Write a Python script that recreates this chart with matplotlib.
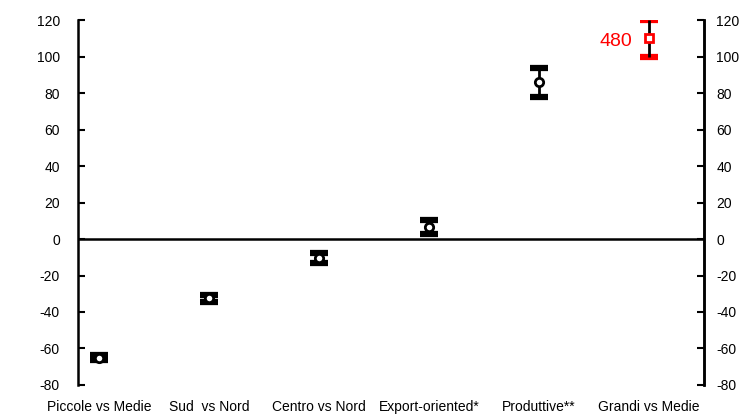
import numpy as np
import matplotlib.pyplot as plt

plt.rcParams['font.family'] = ['Liberation Sans', 'DejaVu Sans']
plt.rcParams['axes.unicode_minus'] = False

categorie = ["Piccole vs Medie", "Sud  vs Nord", "Centro vs Nord",
             "Export-oriented*", "Produttive**", "Grandi vs Medie"]
valori = [-65, -32.5, -10.5, 6.5, 86, 110]
errori = [1.5, 1.8, 2.8, 3.8, 8, 10]
colori = ["black", "black", "black", "black", "black", "red"]
marker = ["o", "o", "o", "o", "o", "s"]

fig = plt.figure(figsize=(7.39, 4.18), dpi=100)
ax = fig.add_axes([0.1055, 0.079, 0.847, 0.873])

x = np.arange(len(categorie))
for i in range(len(categorie)):
    ax.errorbar(x[i], valori[i], yerr=errori[i], fmt=marker[i], color="black",
                ecolor="black", elinewidth=2, capsize=0, mfc="white",
                mec=colori[i], mew=2, ms=6, zorder=3)
    # cappucci spessi
    for y in (valori[i] - errori[i], valori[i] + errori[i]):
        ax.plot([x[i] - 0.085, x[i] + 0.085], [y, y], color=colori[i], lw=4.5,
                solid_capstyle="butt", zorder=2)

ax.text(4.85, 108.5, "480", color="red", fontsize=14, ha="right", va="center")

ax.axhline(0, color="black", lw=1.8, zorder=1)
ax.set_xlim(-0.19, 5.5)
ax.set_ylim(-80, 120)
ax.set_yticks(np.arange(-80, 121, 20))
ax.set_xticks(x)
ax.set_xticklabels(categorie, fontsize=10)
ax.tick_params(axis="x", length=0, pad=11)
ax.tick_params(axis="y", direction="in", length=5, width=1.5, labelsize=10,
               left=True, right=False, pad=13)
ax.spines[["top", "bottom"]].set_visible(False)
ax.spines[["left", "right"]].set_linewidth(1.8)

# asse destro
ax2 = ax.twinx()
ax2.set_ylim(ax.get_ylim())
ax2.set_yticks(np.arange(-80, 121, 20))
ax2.tick_params(axis="y", direction="in", length=5, width=1.5, labelsize=10, pad=9)
ax2.spines[["top", "bottom", "left"]].set_visible(False)
ax2.spines["right"].set_linewidth(1.8)

fig.savefig("out.png", dpi=100)
